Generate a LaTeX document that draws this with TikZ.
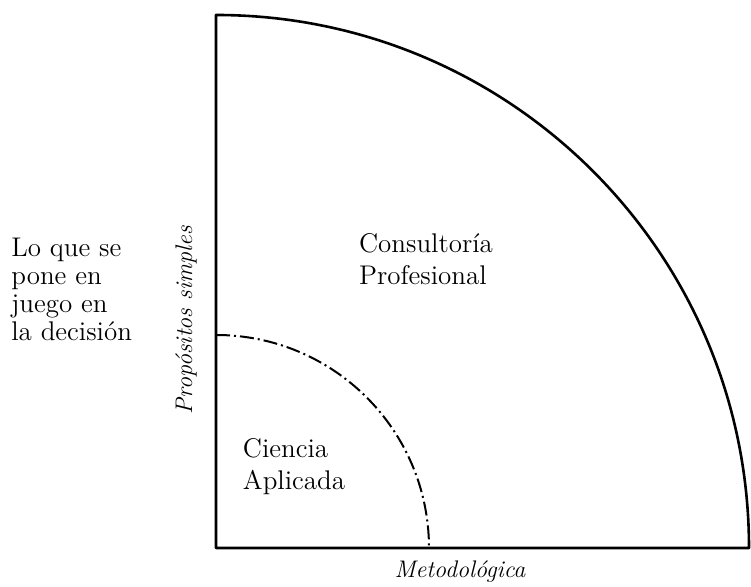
\documentclass[tikz,border=0pt]{standalone}
\begin{document}
\begin{tikzpicture}[x=0.5pt,y=0.5pt,
		label text/.style={font=\fontsize{13.5}{16}\selectfont,align=left,inner sep=0pt},
		axis text/.style={font=\fontsize{12}{14}\selectfont\itshape,inner sep=0pt},
		frame/.style={line width=1.3pt,line join=round}]
		\useasboundingbox (0,0) rectangle (751,587);
		
		\coordinate (O) at (216,39);
		\coordinate (top) at (216,572);
		\coordinate (right) at (749,39);
		\coordinate (inner top) at (216,252);
		\coordinate (inner right) at (429,39);
		
		\draw[frame] (right) arc (0:90:533) -- (O) -- cycle;
		\draw[line width=1pt,dash pattern=on 7pt off 2pt on 1pt off 2pt] (inner top) arc (90:0:213);
		
		\node[label text,anchor=north west,font=\fontsize{13.5}{14}\selectfont] (stake) at (11,349) {Lo que se\\pone en\\juego en\\la decisión};
		\node[axis text,rotate=90] (purpose) at (186,267) {Propósitos simples};
		\node[axis text] (method) at (460,15) {Metodológica};
		\node[label text] (consult) at (426,328) {Consultoría\\Profesional};
		\node[label text] (science) at (294,120) {Ciencia\\Aplicada};
\end{tikzpicture}
\end{document}
